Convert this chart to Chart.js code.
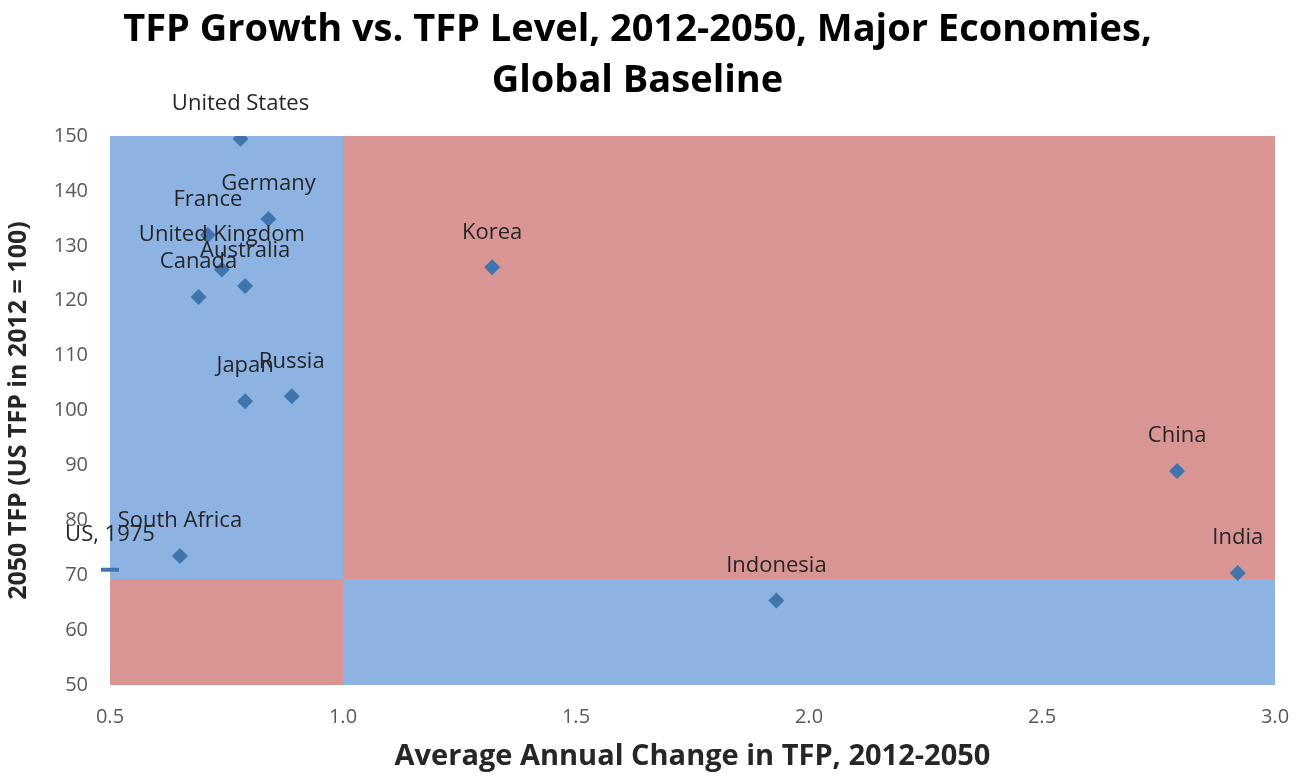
<!DOCTYPE html>
<html>
<head>
<meta charset="utf-8">
<script src="https://cdn.jsdelivr.net/npm/chart.js@4/dist/chart.umd.min.js"></script>
<style>
  html, body { margin: 0; padding: 0; background: #ffffff; }
  #wrap { width: 1303px; height: 777px; position: relative; }
</style>
</head>
<body>
<div id="wrap"><canvas id="c" width="1303" height="777"></canvas></div>
<script>
// Economies: average annual TFP change 2012-2050 (x) and 2050 TFP level, US 2012 = 100 (y)
const countries = ["United States", "Germany", "France", "United Kingdom", "Australia", "Canada",
                   "Japan", "Russia", "South Africa", "Korea", "Indonesia", "China", "India"];
const tfpGrowth = [0.78, 0.84, 0.71, 0.74, 0.79, 0.69, 0.79, 0.89, 0.65, 1.32, 1.93, 2.79, 2.92];
const tfpLevel2050 = [149.5, 134.9, 132.0, 125.7, 122.7, 120.7, 101.7, 102.6, 73.5, 126.1, 65.4, 89.0, 70.4];

// Reference point: US level in 1975
const refLabel = ["US, 1975"];
const refGrowth = [0.5];
const refLevel = [71.0];

// Quadrant split values
const growthSplit = 1.0;
const levelSplit = 69.3;

const xTicks = [0.5, 1.0, 1.5, 2.0, 2.5, 3.0];
const yTicks = [50, 60, 70, 80, 90, 100, 110, 120, 130, 140, 150];

const BLUE = "#8db3e2";
const RED = "#d99594";
const MARK = "#3f74ae";
const FONT = "'Open Sans', 'Liberation Sans', sans-serif";

// Four shaded quadrants, split at the growth and level thresholds
const quadrantPlugin = {
  id: "quadrants",
  beforeDatasetsDraw(chart) {
    const { ctx, chartArea: a, scales: { x, y } } = chart;
    const L = Math.round(a.left), R = Math.round(a.right);
    const T = Math.round(a.top), B = Math.round(a.bottom);
    const xs = Math.round(x.getPixelForValue(growthSplit));
    const ys = Math.round(y.getPixelForValue(levelSplit));
    ctx.save();
    ctx.fillStyle = BLUE;
    ctx.fillRect(L, T, xs - L, ys - T);
    ctx.fillRect(xs, ys, R - xs, B - ys);
    ctx.fillStyle = RED;
    ctx.fillRect(xs, T, R - xs, ys - T);
    ctx.fillRect(L, ys, xs - L, B - ys);
    ctx.restore();
  }
};

// Country names centred above each marker
const labelPlugin = {
  id: "pointLabels",
  afterDatasetsDraw(chart) {
    const ctx = chart.ctx;
    ctx.save();
    ctx.font = "22px " + FONT;
    ctx.fillStyle = "#262626";
    ctx.textAlign = "center";
    ctx.textBaseline = "middle";
    chart.data.datasets.forEach((ds, di) => {
      const meta = chart.getDatasetMeta(di);
      meta.data.forEach((pt, i) => {
        ctx.fillText(ds.names[i], pt.x, pt.y - 35);
      });
    });
    ctx.restore();
  }
};

new Chart(document.getElementById("c"), {
  type: "scatter",
  data: {
    datasets: [
      {
        label: "Economies",
        names: countries,
        data: countries.map((_, i) => ({ x: tfpGrowth[i], y: tfpLevel2050[i] })),
        pointStyle: "rectRot",
        pointRadius: 8,
        pointHoverRadius: 8,
        backgroundColor: MARK,
        borderColor: MARK,
        borderWidth: 0
      },
      {
        label: "US 1975",
        names: refLabel,
        data: refGrowth.map((v, i) => ({ x: v, y: refLevel[i] })),
        pointStyle: "line",
        pointRadius: 9,
        pointHoverRadius: 9,
        borderColor: MARK,
        backgroundColor: MARK,
        borderWidth: 4,
        clip: false
      }
    ]
  },
  options: {
    responsive: false,
    animation: false,
    layout: { padding: { left: 0, right: 28, top: 0, bottom: 0 } },
    plugins: {
      legend: { display: false },
      tooltip: { enabled: false },
      title: {
        display: true,
        text: ["TFP Growth vs. TFP Level, 2012-2050, Major Economies,", "Global Baseline"],
        font: { family: FONT, size: 38, weight: "bold", lineHeight: 1.33 },
        color: "#000000",
        padding: { top: 5, bottom: 30 }
      }
    },
    scales: {
      x: {
        type: "linear",
        min: 0.5, max: 3.0,
        afterBuildTicks(scale) { scale.ticks = xTicks.map(v => ({ value: v })); },
        afterFit(scale) {
          scale.height = 92;
          scale.paddingLeft = 0;
          scale.paddingRight = 0;
        },
        grid: { display: false, drawTicks: false },
        border: { display: false },
        ticks: {
          color: "#595959",
          font: { family: FONT, size: 20 },
          padding: 20,
          callback: v => v.toFixed(1)
        },
        title: {
          display: true,
          text: "Average Annual Change in TFP, 2012-2050",
          color: "#262626",
          font: { family: FONT, size: 29, weight: "bold" },
          padding: { top: 10, bottom: 3 }
        }
      },
      y: {
        type: "linear",
        min: 50, max: 150,
        afterBuildTicks(scale) { scale.ticks = yTicks.map(v => ({ value: v })); },
        afterFit(scale) { scale.width = 110; },
        grid: { display: false, drawTicks: false },
        border: { display: false },
        ticks: {
          color: "#595959",
          font: { family: FONT, size: 20 },
          padding: 22
        },
        title: {
          display: true,
          text: "2050 TFP (US TFP in 2012 = 100)",
          color: "#262626",
          font: { family: FONT, size: 25, weight: "bold" },
          padding: { top: 4, bottom: 4 }
        }
      }
    }
  },
  plugins: [quadrantPlugin, labelPlugin]
});
</script>
</body>
</html>
